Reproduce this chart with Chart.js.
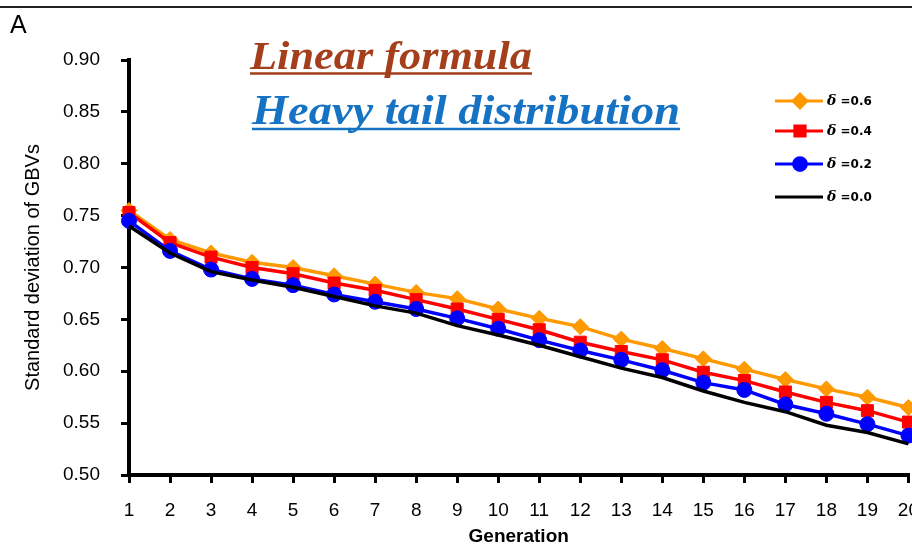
<!DOCTYPE html>
<html>
<head>
<meta charset="utf-8">
<script src="https://cdn.jsdelivr.net/npm/chart.js@4/dist/chart.umd.min.js"></script>
<style>
  html, body { margin: 0; padding: 0; background: #fff; overflow: hidden; }
  #wrap { position: relative; width: 935px; height: 548px; }
  #topline { position: absolute; left: 0; top: 6px; width: 912px; height: 2px; background: #222; }
  #panel { position: absolute; left: 10px; top: 10px; font: 25px "Liberation Sans", Arial, sans-serif; color: #000; }
</style>
</head>
<body>
<div id="wrap">
  <canvas id="sdChart" width="935" height="548"></canvas>
  <div id="topline"></div>
  <div id="panel">A</div>
</div>
<script>
const generations = ['1','2','3','4','5','6','7','8','9','10','11','12','13','14','15','16','17','18','19','20'];
const seriesLabels = ['δ =0.6', 'δ =0.4', 'δ =0.2', 'δ =0.0'];
const sdDelta06 = [0.755,0.727,0.714,0.705,0.700,0.692,0.684,0.676,0.670,0.660,0.651,0.643,0.631,0.622,0.612,0.602,0.592,0.583,0.575,0.565];
const sdDelta04 = [0.753,0.724,0.710,0.700,0.694,0.685,0.678,0.669,0.660,0.650,0.640,0.628,0.619,0.611,0.599,0.591,0.580,0.570,0.562,0.551];
const sdDelta02 = [0.745,0.716,0.698,0.689,0.683,0.674,0.667,0.660,0.651,0.641,0.630,0.620,0.611,0.601,0.589,0.582,0.568,0.559,0.549,0.538];
const sdDelta00 = [0.740,0.714,0.696,0.688,0.681,0.672,0.663,0.656,0.644,0.635,0.625,0.614,0.603,0.594,0.581,0.570,0.561,0.548,0.541,0.530];
const yTicks = [0.50,0.55,0.60,0.65,0.70,0.75,0.80,0.85,0.90];

Chart.defaults.font.family = '"Liberation Sans", Arial, sans-serif';
Chart.defaults.color = '#000';

// two underlined italic headings inside the plot
const headings = [
  { text: 'Linear formula', color: '#a53e1a', x: 250, y: 69, w: 282, size: 40, lineY: 73.5 },
  { text: 'Heavy tail distribution', color: '#1673c4', x: 252, y: 124, w: 428, size: 42, lineY: 129 }
];

const headingPlugin = {
  id: 'headings',
  afterDraw(chart) {
    const ctx = chart.ctx;
    headings.forEach(h => {
      ctx.save();
      ctx.font = `italic bold ${h.size}px "Liberation Serif", "DejaVu Serif", serif`;
      ctx.fillStyle = h.color;
      ctx.textBaseline = 'alphabetic';
      const m = ctx.measureText(h.text).width;
      ctx.translate(h.x, h.y);
      ctx.scale(h.w / m, 1);
      ctx.fillText(h.text, 0, 0);
      ctx.restore();
      ctx.save();
      ctx.strokeStyle = h.color;
      ctx.lineWidth = 2.5;
      ctx.beginPath();
      ctx.moveTo(h.x, h.lineY);
      ctx.lineTo(h.x + h.w, h.lineY);
      ctx.stroke();
      ctx.restore();
    });
  }
};

// legend box in the upper right, rows not evenly spaced
const legendRows = [101, 131, 164, 197];
const legendPlugin = {
  id: 'sideLegend',
  afterDraw(chart) {
    const ctx = chart.ctx;
    chart.data.datasets.forEach((ds, i) => {
      const y = legendRows[i];
      ctx.save();
      ctx.strokeStyle = ds.borderColor;
      ctx.lineWidth = 3;
      ctx.beginPath();
      ctx.moveTo(775, y);
      ctx.lineTo(823, y);
      ctx.stroke();
      if (ds.pointRadius > 0) {
        Chart.helpers.drawPoint(ctx, {
          pointStyle: ds.pointStyle, radius: ds.pointRadius * 0.85, rotation: 0, borderWidth: 1
        }, 800, y);
        ctx.fillStyle = ds.pointBackgroundColor;
        ctx.fill();
      }
      ctx.fillStyle = '#000';
      ctx.textBaseline = 'middle';
      ctx.font = 'italic bold 14px "DejaVu Serif", serif';
      const sym = ds.label.charAt(0);
      ctx.fillText(sym, 827, y);
      const sw = ctx.measureText(sym).width;
      ctx.font = 'bold 12px "DejaVu Sans", Verdana, sans-serif';
      ctx.fillText(ds.label.slice(1), 827 + sw, y + 1);
      ctx.restore();
    });
  }
};

function series(label, data, color, style, radius, order) {
  return {
    label: label,
    data: data,
    borderColor: color,
    backgroundColor: color,
    pointBackgroundColor: color,
    pointBorderColor: color,
    pointStyle: style,
    pointRadius: radius,
    pointBorderWidth: 1,
    borderWidth: 3.5,
    tension: 0,
    order: order
  };
}

new Chart(document.getElementById('sdChart'), {
  type: 'line',
  data: {
    labels: generations,
    datasets: [
      series(seriesLabels[0], sdDelta06, '#ff9900', 'rectRot', 8, 3),
      series(seriesLabels[1], sdDelta04, '#ff0000', 'rect', 8.5, 2),
      series(seriesLabels[2], sdDelta02, '#0000ff', 'circle', 7.5, 1),
      series(seriesLabels[3], sdDelta00, '#000000', 'circle', 0, 0)
    ]
  },
  options: {
    responsive: false,
    animation: false,
    layout: { padding: { left: 10, top: 60, right: 0, bottom: 0 } },
    plugins: { legend: { display: false }, tooltip: { enabled: false } },
    scales: {
      x: {
        type: 'category',
        offset: false,
        grid: { drawOnChartArea: false, drawTicks: true, tickLength: 8, color: '#000', lineWidth: 3 },
        border: { display: true, color: '#000', width: 4 },
        ticks: { font: { size: 19 }, padding: 16, maxRotation: 0, autoSkip: false },
        title: { display: true, text: 'Generation', font: { size: 19, weight: 'bold' }, padding: { top: 0, bottom: 0 } },
        afterFit(scale) { scale.height = 73; }
      },
      y: {
        min: 0.5,
        max: 0.9,
        afterBuildTicks(scale) { scale.ticks = yTicks.map(v => ({ value: v })); },
        grid: { drawOnChartArea: false, drawTicks: true, tickLength: 8, color: '#000', lineWidth: 3 },
        border: { display: true, color: '#000', width: 4 },
        ticks: { font: { size: 19 }, padding: 21, callback: v => Number(v).toFixed(2) },
        title: { display: true, text: 'Standard deviation of GBVs', font: { size: 20 }, padding: { top: 11, bottom: 0 } },
        afterFit(scale) { scale.width = 119; }
      }
    }
  },
  plugins: [headingPlugin, legendPlugin]
});
</script>
</body>
</html>
